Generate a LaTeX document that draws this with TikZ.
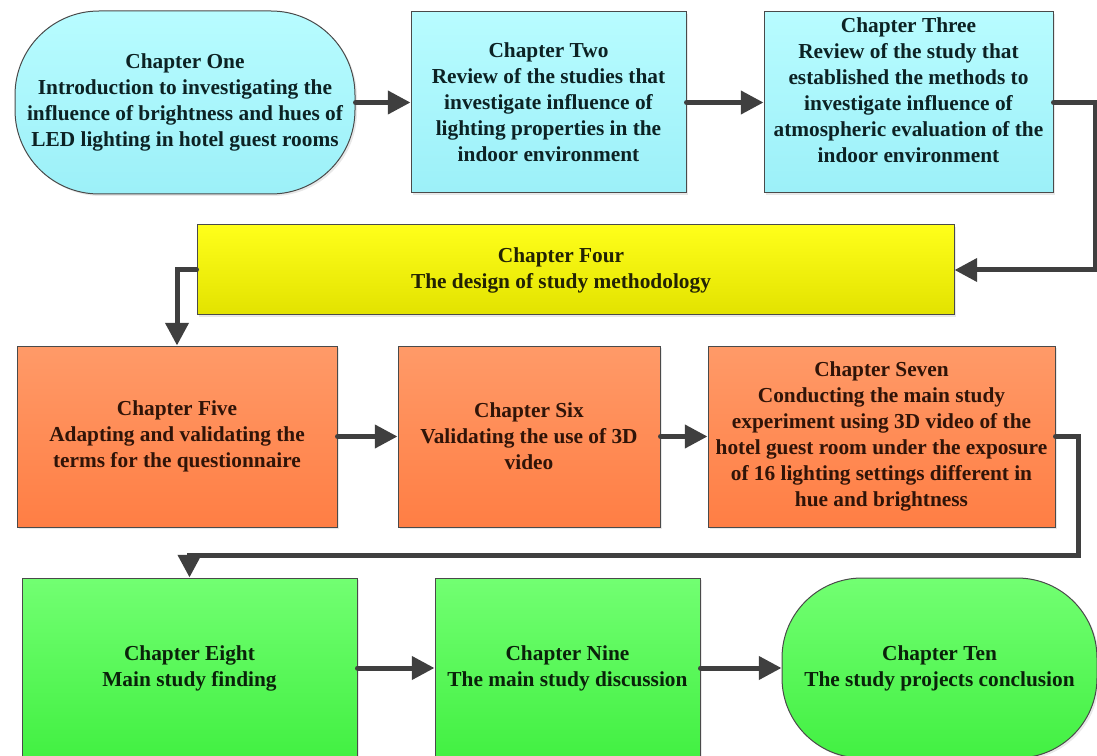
\documentclass[tikz,border=0pt]{standalone}
\usepackage{fontspec}
\setmainfont{Liberation Serif}
\usetikzlibrary{arrows.meta,shadows}

\definecolor{linegray}{HTML}{3F3F3F}
\definecolor{edgegray}{HTML}{4A4A4A}
\definecolor{cyantop}{HTML}{B8FCFF}
\definecolor{cyanbot}{HTML}{9CF0F8}
\definecolor{yellowtop}{HTML}{FFFF1A}
\definecolor{yellowbot}{HTML}{E2E200}
\definecolor{orangetop}{HTML}{FF9A68}
\definecolor{orangebot}{HTML}{FF7E44}
\definecolor{greentop}{HTML}{72FF72}
\definecolor{greenbot}{HTML}{42F042}
\definecolor{cyantext}{HTML}{0C2224}
\definecolor{yellowtext}{HTML}{222204}
\definecolor{orangetext}{HTML}{301408}
\definecolor{greentext}{HTML}{0A220A}

\begin{document}
\begin{tikzpicture}[x=0.75pt,y=-0.75pt,
  chfont/.style={font=\fontsize{16}{19.5}\selectfont\bfseries, align=center},
  chapter/.style={draw=edgegray, line width=0.75pt, inner sep=0pt, chfont,
    drop shadow={shadow xshift=1.5pt, shadow yshift=-1.5pt, opacity=0.18}},
  cyanbox/.style={chapter, top color=cyantop, bottom color=cyanbot, text=cyantext},
  yellowbox/.style={chapter, top color=yellowtop, bottom color=yellowbot, text=yellowtext},
  orangebox/.style={chapter, top color=orangetop, bottom color=orangebot, text=orangetext},
  greenbox/.style={chapter, top color=greentop, bottom color=greenbot, text=greentext},
  conn/.style={draw=linegray, line width=3.75pt, line cap=round,
    -{Triangle[length=17pt,width=17pt]}}
]
\useasboundingbox (0,0) rectangle (1097,756);
\clip (0,0) rectangle (1097,756);

% first row
\node[cyanbox, rounded corners=63pt, minimum width=255pt, minimum height=137.25pt]
  (c1) at (185,102.5)
  {Chapter One\\Introduction to investigating the\\influence of brightness and hues of\\LED lighting in hotel guest rooms};
\node[cyanbox, minimum width=206.25pt, minimum height=135.75pt] (c2) at (548.5,102.5)
  {Chapter Two\\Review of the studies that\\investigate influence of\\lighting properties in the\\indoor environment};
\node[cyanbox, minimum width=216.75pt, minimum height=135.75pt] (c3) at (908.5,102.5) {};
\node[chfont, text=cyantext] (t3) at (908.5,90)
  {Chapter Three\\Review of the study that\\established the methods to\\investigate influence of\\atmospheric evaluation of the\\indoor environment};

% second row
\node[yellowbox, minimum width=567.75pt, minimum height=67.5pt] (c4) at (575.5,270) {};
\node[chfont, text=yellowtext] (t4) at (561,270)
  {Chapter Four\\The design of study methodology};

% third row
\node[orangebox, minimum width=240pt, minimum height=135.75pt] (c5) at (177,436.5)
  {Chapter Five\\Adapting and validating the\\terms for the questionnaire};
\node[orangebox, minimum width=196.5pt, minimum height=135.75pt] (c6) at (529,436.5)
  {Chapter Six\\Validating the use of 3D\\video};
\node[orangebox, minimum width=260.25pt, minimum height=135.75pt] (c7) at (881.5,436.5)
  {Chapter Seven\\Conducting the main study\\experiment using 3D video of the\\hotel guest room under the exposure\\of 16 lighting settings different in\\hue and brightness};

% fourth row
\node[greenbox, minimum width=251.25pt, minimum height=135pt] (c8) at (189.5,668)
  {Chapter Eight\\Main study finding};
\node[greenbox, minimum width=198.75pt, minimum height=135pt] (c9) at (567.5,668)
  {Chapter Nine\\The main study discussion};
\node[greenbox, rounded corners=60pt, minimum width=236.25pt, minimum height=135pt]
  (c10) at (939.5,668)
  {Chapter Ten\\The study projects conclusion};

% bends of the returning connectors
\coordinate (r1) at (1095,150);
\coordinate (r2) at (1078,555);

% connectors
\draw[conn] (c1.east) -- (c2.west);
\draw[conn] (c2.east) -- (c3.west);
\draw[conn] (c3.east) -| (r1) |- (c4.east);
\draw[conn] (c4.west) -| (c5.north);
\draw[conn] (c5.east) -- (c6.west);
\draw[conn] (c6.east) -- (c7.west);
\draw[conn] (c7.east) -| (r2) -| (c8.north);
\draw[conn] (c8.east) -- (c9.west);
\draw[conn] (c9.east) -- (c10.west);
\end{tikzpicture}
\end{document}
